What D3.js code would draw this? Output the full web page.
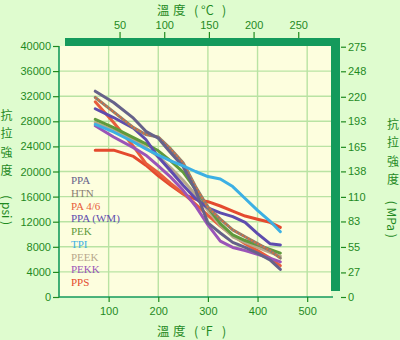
<!DOCTYPE html>
<html>
<head>
<meta charset="utf-8">
<script src="https://cdn.jsdelivr.net/npm/d3@7"></script>
<style>
  html, body { margin: 0; padding: 0; background: #dffccf; }
  svg { display: block; }
  .tick text { font-family: "Liberation Sans", Arial, sans-serif; font-size: 11px; fill: #1f8a1f; }
  .tick line { stroke: #1f8a1f; stroke-width: 1.2; }
</style>
</head>
<body>
<svg id="chart" width="400" height="340"></svg>
<script>
// Temperatures (°F) at which each material's tensile strength is plotted
const temps = [73, 110, 150, 175, 200, 225, 250, 275, 300, 325, 350, 375, 400, 425, 446];

// Tensile strength (psi) per material
const ppa   = [32800, 31000, 28500, 26400, 25300, 23000, 20800, 17000, 11800, 10200, 8700, 7900, 7000, 5900, 4400];
const htn   = [31800, 29500, 27000, 25900, 25500, 23600, 21400, 17600, 14300, 12400, 10700, 9600, 8500, 7400, 6200];
const pa46  = [31100, 27800, 24000, 21300, 19800, 18100, 16500, 14800, 13000, 11300, 9800, 8500, 7400, 6200, 5000];
const ppaWm = [30000, 28600, 26900, 25100, 22300, 20100, 17800, 15700, 14200, 13400, 12800, 11900, 10100, 8500, 8300];
const pek   = [28300, 27000, 25400, 24400, 23300, 21700, 19900, 17200, 14300, 11700, 9900, 9000, 8300, 7600, 7000];
const tpi   = [27500, 26300, 24700, 23600, 22600, 21700, 20900, 20000, 19200, 18800, 17600, 15700, 13800, 12100, 10400];
const peek  = [27800, 26500, 25000, 23800, 22400, 20600, 18600, 16300, 13800, 11400, 9600, 8700, 7900, 7100, 6500];
const pekk  = [27300, 25500, 23800, 22600, 20900, 19100, 17000, 14500, 11500, 8900, 7900, 7400, 6800, 6200, 5600];
const pps   = [23400, 23400, 22400, 21000, 19300, 17800, 16400, 15600, 15200, 14500, 13700, 12900, 12400, 11900, 11100];

// Legend order and colours
const names  = ["PPA", "HTN", "PA 4/6", "PPA (WM)", "PEK", "TPI", "PEEK", "PEKK", "PPS"];
const colors = ["#66628a", "#8a7d72", "#e85d3c", "#5e4cae", "#5f9a3c", "#3cb0e4", "#b8a88c", "#9a55b8", "#e44a2e"];
const values = [ppa, htn, pa46, ppaWm, pek, tpi, peek, pekk, pps];

// Axis tick values
const fTicks   = [100, 200, 300, 400, 500];
const cTicks   = [50, 100, 150, 200, 250];
const psiTicks = [0, 4000, 8000, 12000, 16000, 20000, 24000, 28000, 32000, 36000, 40000];
const mpaTicks = [0, 27, 55, 83, 110, 138, 165, 193, 220, 248, 275];

const svg = d3.select("#chart");
const plotL = 59, plotR = 331, plotT = 46, plotB = 297;

const x = d3.scaleLinear().domain([0, 548]).range([plotL, plotR]);
const y = d3.scaleLinear().domain([0, 40000]).range([plotB, plotT]);
const xC = d3.scaleLinear().domain([-17.78, (548 - 32) * 5 / 9]).range([plotL, plotR]);
const yM = d3.scaleLinear().domain([0, 40000 / 145.038]).range([plotB, plotT]);

const green = "#1f8a1f";
const bar = "#149a5c";

// plot background
svg.append("rect").attr("x", plotL).attr("y", plotT)
  .attr("width", plotR - plotL).attr("height", plotB - plotT).attr("fill", "#fdfede");

// grid
const grid = svg.append("g").attr("stroke", "#b9e3a3").attr("stroke-width", 1.4);
grid.selectAll("line.h").data(psiTicks.filter(d => d > 0 && d < 40000)).join("line")
  .attr("class", "h")
  .attr("x1", plotL).attr("x2", plotR).attr("y1", d => y(d)).attr("y2", d => y(d));
grid.selectAll("line.v").data(fTicks).join("line")
  .attr("class", "v")
  .attr("x1", d => x(d)).attr("x2", d => x(d)).attr("y1", plotT).attr("y2", plotB);

// top and right frame bars
svg.append("rect").attr("x", 65).attr("y", 38).attr("width", 275).attr("height", 8).attr("fill", bar);
svg.append("rect").attr("x", plotR).attr("y", 38).attr("width", 9).attr("height", 253).attr("fill", bar);

// left and bottom axis lines
svg.append("line").attr("x1", plotL).attr("x2", plotL).attr("y1", plotT).attr("y2", plotB + 0.5)
  .attr("stroke", bar).attr("stroke-width", 1.6);
svg.append("line").attr("x1", plotL).attr("x2", 333).attr("y1", plotB).attr("y2", plotB)
  .attr("stroke", bar).attr("stroke-width", 1.6);

// series lines
const line = d3.line().x((d, i) => x(temps[i])).y(d => y(d));
const drawOrder = [8, 2, 7, 6, 4, 3, 1, 0, 5];
const lines = svg.append("g").attr("fill", "none").attr("stroke-width", 3)
  .attr("stroke-linejoin", "round").attr("stroke-linecap", "round");
drawOrder.forEach(k => {
  lines.append("path").attr("d", line(values[k])).attr("stroke", colors[k]);
  if (names[k] === "HTN") {
    lines.append("path").attr("d", line(values[k])).attr("stroke", "#e0703c")
      .attr("stroke-width", 2).attr("stroke-dasharray", "1.5,2").attr("stroke-linecap", "butt");
  }
});

// legend
svg.append("g").selectAll("text").data(names).join("text")
  .attr("x", 71).attr("y", (d, i) => 184 + i * 12.75)
  .attr("fill", (d, i) => colors[i])
  .attr("font-family", "'Liberation Serif', 'Times New Roman', serif")
  .attr("font-size", 11)
  .text(d => d);

// axes
const fmt = d3.format("d");
const noDomain = g => g.select(".domain").remove();
svg.append("g").attr("transform", `translate(${plotL},0)`)
  .call(d3.axisLeft(y).tickValues(psiTicks).tickFormat(fmt).tickSize(6).tickPadding(2)).call(noDomain);
svg.append("g").attr("transform", `translate(341,0)`)
  .call(d3.axisRight(yM).tickValues(mpaTicks).tickFormat(fmt).tickSize(5).tickPadding(2)).call(noDomain);
svg.append("g").attr("transform", `translate(0,${plotB})`)
  .call(d3.axisBottom(x).tickValues(fTicks).tickFormat(fmt).tickSize(5).tickPadding(5)).call(noDomain);
svg.append("g").attr("transform", `translate(0,38)`)
  .call(d3.axisTop(xC).tickValues(cTicks).tickFormat(fmt).tickSize(6).tickPadding(3)).call(noDomain);

// axis titles, set out with wide spacing between the parts
const cjk = "'Noto Sans CJK TC', 'Noto Sans CJK SC', sans-serif";
function hTitle(yBase, unit) {
  const g = svg.append("g").attr("fill", green).attr("font-family", cjk).attr("font-size", 12.5);
  const parts = [["溫", 157], ["度", 173], ["(", 194], [unit, 201], [")", 222]];
  parts.forEach(([t, px]) => g.append("text").attr("x", px).attr("y", yBase).text(t));
}
hTitle(14.5, "°C");
hTitle(336, "°F");

function vTitle(cx, y0, unit, shift) {
  const g = svg.append("g").attr("fill", green).attr("font-family", cjk).attr("font-size", 12);
  ["抗", "拉", "強", "度"].forEach((c, i) => {
    g.append("text").attr("x", cx).attr("y", y0 + i * 18.3 + 5)
      .attr("text-anchor", "middle").text(c);
  });
  g.append("text")
    .attr("transform", `translate(${cx + shift},${y0 + 4 * 18.3 + 22}) rotate(90)`)
    .attr("text-anchor", "middle").text(`( ${unit} )`);
}
vTitle(6.5, 115, "psi", -4.3);
vTitle(393, 124, "MPa", -6);
</script>
</body>
</html>
